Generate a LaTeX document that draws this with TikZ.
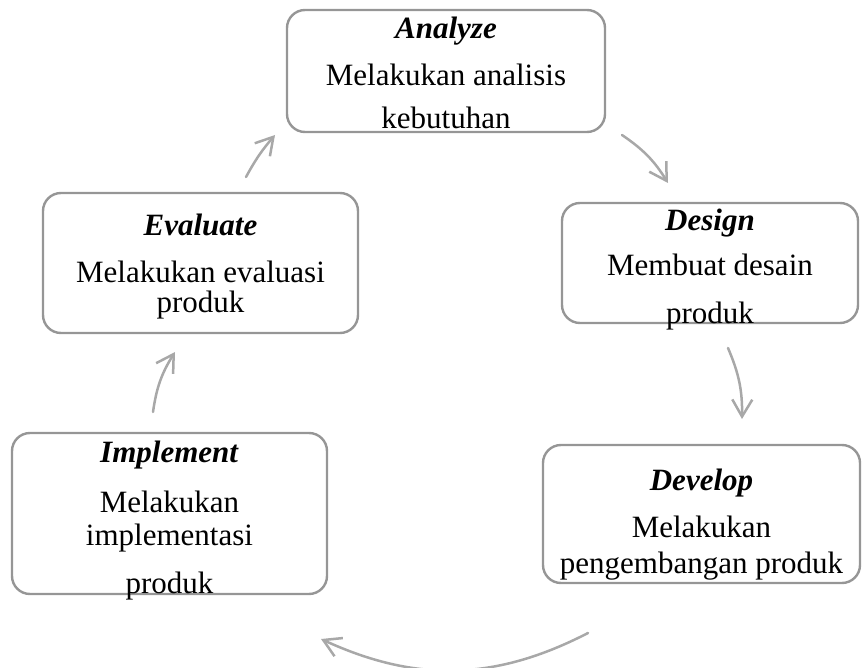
\documentclass[tikz,border=0pt]{standalone}
\usepackage{fontspec}
\setmainfont{Liberation Serif}
\usetikzlibrary{positioning, arrows.meta}
\definecolor{boxgray}{RGB}{150,150,150}
\definecolor{arrgray}{RGB}{168,168,168}

\begin{document}
\begin{tikzpicture}[
      x=0.5pt, y=-0.5pt,
      >={Straight Barb[length=8.5pt,width=10pt]},
      phase/.style={draw=boxgray,line width=1.2pt,rounded corners=9pt,inner sep=0pt},
      phasetxt/.style={align=center,inner sep=0pt,font=\fontsize{15.5}{15}\selectfont},
      cyc/.style={->,draw=arrgray,line width=1.25pt,line cap=round,line join=round}
    ]
    \useasboundingbox (0,0) rectangle (862,668);

    % phase boxes
    \node[phase,minimum width=159pt,minimum height=61pt] (analyze) at (446,71) {};
    \node[phase,minimum width=148pt,minimum height=60pt] (design) at (710,263) {};
    \node[phase,minimum width=158.5pt,minimum height=69pt] (develop) at (701.5,514) {};
    \node[phase,minimum width=157.5pt,minimum height=80.5pt] (implement) at (169.5,513.5) {};
    \node[phase,minimum width=157.5pt,minimum height=70pt] (evaluate) at (200.5,263) {};

    % phase texts
    \node[phasetxt] (analyzeT) at ([yshift=-1pt]analyze.center)
      {\textbf{\textit{Analyze}}\\[8.5pt]Melakukan analisis\\[6.5pt]kebutuhan};
    \node[phasetxt] (designT) at ([yshift=-3.5pt]design.center)
      {\textbf{\textit{Design}}\\[7.5pt]Membuat desain\\[9pt]produk};
    \node[phasetxt] (developT) at ([yshift=-5.5pt]develop.center)
      {\textbf{\textit{Develop}}\\[8.5pt]Melakukan\\[3pt]pengembangan produk};
    \node[phasetxt] (implementT) at ([yshift=-3.5pt]implement.center)
      {\textbf{\textit{Implement}}\\[10pt]Melakukan\\[1.5pt]implementasi\\[9pt]produk};
    \node[phasetxt] (evaluateT) at ([yshift=-2pt]evaluate.center)
      {\textbf{\textit{Evaluate}}\\[8.5pt]Melakukan evaluasi\\produk};

    % arrow ends
    \coordinate (c1a) at (622,135);
    \coordinate (c1b) at (668,183);
    \coordinate (c2a) at (728,348);
    \coordinate (c2b) at (742,419);
    \coordinate (c3a) at (588,633);
    \coordinate (c3b) at (321,639);
    \coordinate (c4a) at (153,412);
    \coordinate (c4b) at (175,352);
    \coordinate (c5a) at (246,177);
    \coordinate (c5b) at (275,135);

    % cycle arrows
    \draw[cyc] (c1a) to[bend left=12] (c1b);
    \draw[cyc] (c2a) to[bend left=12] (c2b);
    \draw[cyc] (c3a) to[bend left=26] (c3b);
    \draw[cyc] (c4a) to[bend left=12] (c4b);
    \draw[cyc] (c5a) to[bend left=6] (c5b);

    \end{tikzpicture}
\end{document}
